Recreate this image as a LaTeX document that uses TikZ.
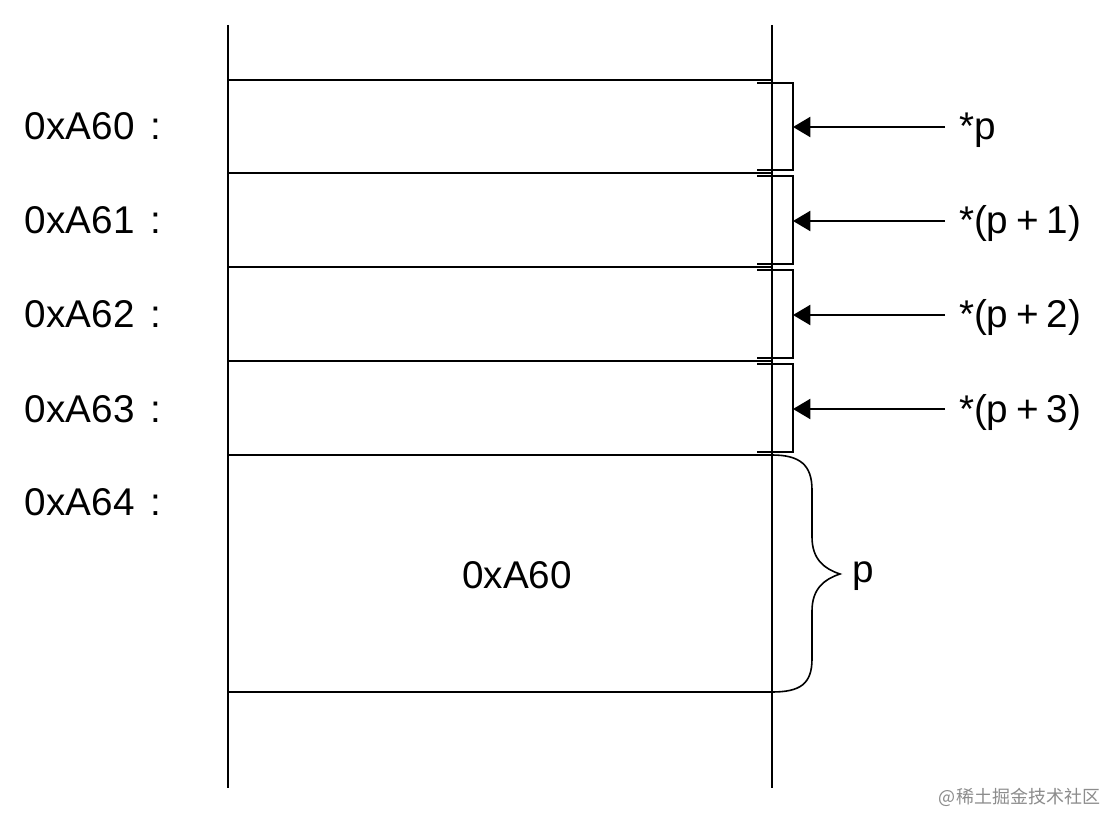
\documentclass[tikz,border=0pt]{standalone}
\usepackage{fontspec}
\setmainfont{Liberation Sans}
\newfontfamily\cjk{Noto Sans CJK SC}
\usetikzlibrary{arrows.meta}
\begin{document}
\begin{tikzpicture}[x=0.75pt,y=-0.75pt,line width=1.5pt,
  txt/.style={inner sep=0pt,font=\fontsize{29}{34}\selectfont},
  addr/.style={txt,anchor=base west},
  lab/.style={txt,anchor=base west,inner xsep=9.75pt},
  bracketline/.style={line width=1.5pt},
  ptr/.style={line width=1.5pt,-{Triangle[length=13pt,width=15pt]}},
  bracestyle/.style={line width=1.2pt}]
\useasboundingbox (0,0) rectangle (1108,813);
\fill[white] (0,0) rectangle (1108,813);
% rails
\draw (228,25) -- (228,788);
\draw (772,25) -- (772,788);
% cells
\draw (228,80) -- (772,80);
\draw (228,173.5) -- (772,173.5);
\draw (228,267) -- (772,267);
\draw (228,361) -- (772,361);
\draw (228,455) -- (772,455);
\draw (228,692) -- (772,692);
% brackets
\draw[bracketline] (757,83) -- (793,83) -- (793,170.5) -- (757,170.5);
\draw[bracketline] (757,176.5) -- (793,176.5) -- (793,264) -- (757,264);
\draw[bracketline] (757,270) -- (793,270) -- (793,358) -- (757,358);
\draw[bracketline] (757,364) -- (793,364) -- (793,452) -- (757,452);
\coordinate (b0) at (793,127);
\coordinate (b1) at (793,221);
\coordinate (b2) at (793,315);
\coordinate (b3) at (793,409);
% address labels
\node[addr] (a0) at (24,140) {0xA60\hspace{12pt}:};
\node[addr] (a1) at (24,234) {0xA61\hspace{12pt}:};
\node[addr] (a2) at (24,328) {0xA62\hspace{12pt}:};
\node[addr] (a3) at (24,422) {0xA63\hspace{12pt}:};
\node[addr] (a4) at (24,515) {0xA64\hspace{12pt}:};
\node[txt,anchor=base] (val) at (517,588) {0xA60};
% pointer labels
\node[lab] (l0) at (945,140) {*p};
\node[lab] (l1) at (945,234) {*(p\hspace{6pt}+\hspace{6pt}1)};
\node[lab] (l2) at (945,328) {*(p\hspace{6pt}+\hspace{6pt}2)};
\node[lab] (l3) at (945,422) {*(p\hspace{6pt}+\hspace{6pt}3)};
\draw[ptr] (l0.west |- b0) -- (b0);
\draw[ptr] (l1.west |- b1) -- (b1);
\draw[ptr] (l2.west |- b2) -- (b2);
\draw[ptr] (l3.west |- b3) -- (b3);
% brace
\draw[bracestyle] (772,455) .. controls (800,455) and (812,465) .. (812,490) -- (812,537)
  .. controls (812,560) and (825,569) .. (840,574)
  .. controls (825,579) and (812,588) .. (812,611) -- (812,659)
  .. controls (812,684) and (800,692) .. (772,692);
\node[txt,anchor=base west] (pl) at (851,582) {p};
% watermark
\node[inner sep=0pt,anchor=east,text=black!45,font=\cjk\fontsize{13.5}{16}\selectfont] (wm) at (1101,797) {@稀土掘金技术社区};
\end{tikzpicture}
\end{document}
